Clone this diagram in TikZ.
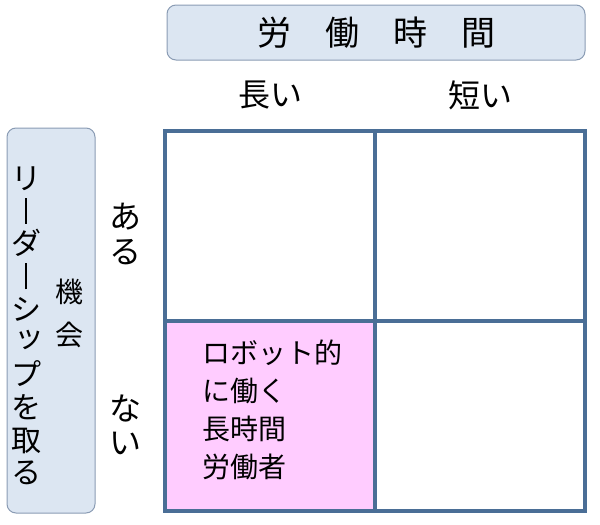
\documentclass[tikz,border=0pt]{standalone}
\usepackage{fontspec}
\setmainfont{Noto Sans CJK JP}
\definecolor{boxfill}{HTML}{DCE6F2}
\definecolor{boxline}{HTML}{8A9CB4}
\definecolor{gridline}{HTML}{4A6E96}
\definecolor{pinkcell}{HTML}{FFCCFF}
\newcommand{\vbar}{\makebox[1em]{\raisebox{-1.6pt}{\rule{2.3pt}{26pt}}}}
\newcommand{\vtsu}{\makebox[1em]{\hspace{0.25em}\raisebox{0.18em}{ッ}}}
\tikzset{
  labelbox/.style={draw=boxline, fill=boxfill, rounded corners=9pt, line width=1pt, inner sep=0pt},
  cell/.style={draw=gridline, line width=4pt, inner sep=0pt, minimum width=210pt, minimum height=190pt},
  lbl/.style={inner sep=0pt, text=black}
}
\begin{document}
\begin{tikzpicture}[x=1pt,y=-1pt]
\useasboundingbox (0,0) rectangle (600,525);
% title box
\node[labelbox, minimum width=418pt, minimum height=55pt] (title) at (376,32.5) {};
\node[lbl, font=\fontsize{34}{34}\selectfont] (titletext) at (title.center) {労　働　時　間};
% column headers
\node[lbl, font=\fontsize{32}{32}\selectfont] (long) at (270,95) {長い};
\node[lbl, font=\fontsize{32}{32}\selectfont] (short) at (480,95) {短い};
% left box
\node[labelbox, minimum width=88pt, minimum height=385pt] (side) at (51,320.5) {};
\node[lbl, align=center, font=\fontsize{30}{32.7}\selectfont] (sidetext) at (26,326) {リ\\\vbar\\ダ\\\vbar\\シ\\\vtsu\\プ\\を\\取\\る};
\node[lbl, align=center, font=\fontsize{28}{43}\selectfont] (kikai) at (69,313) {機\\会};
% row headers
\node[lbl, align=center, font=\fontsize{32}{35}\selectfont] (aru) at (125,234) {あ\\る};
\node[lbl, align=center, font=\fontsize{32}{34}\selectfont] (nai) at (125,425) {な\\い};
% grid cells
\node[cell] (c11) at (270,225.5) {};
\node[cell] (c12) at (480,225.5) {};
\node[cell, fill=pinkcell] (c21) at (270,415.5) {};
\node[cell] (c22) at (480,415.5) {};
\node[lbl, align=left, anchor=north west, font=\fontsize{28}{38}\selectfont] (robot) at (202,340) {ロボット的\\に働く\\長時間\\労働者};
\end{tikzpicture}
\end{document}
